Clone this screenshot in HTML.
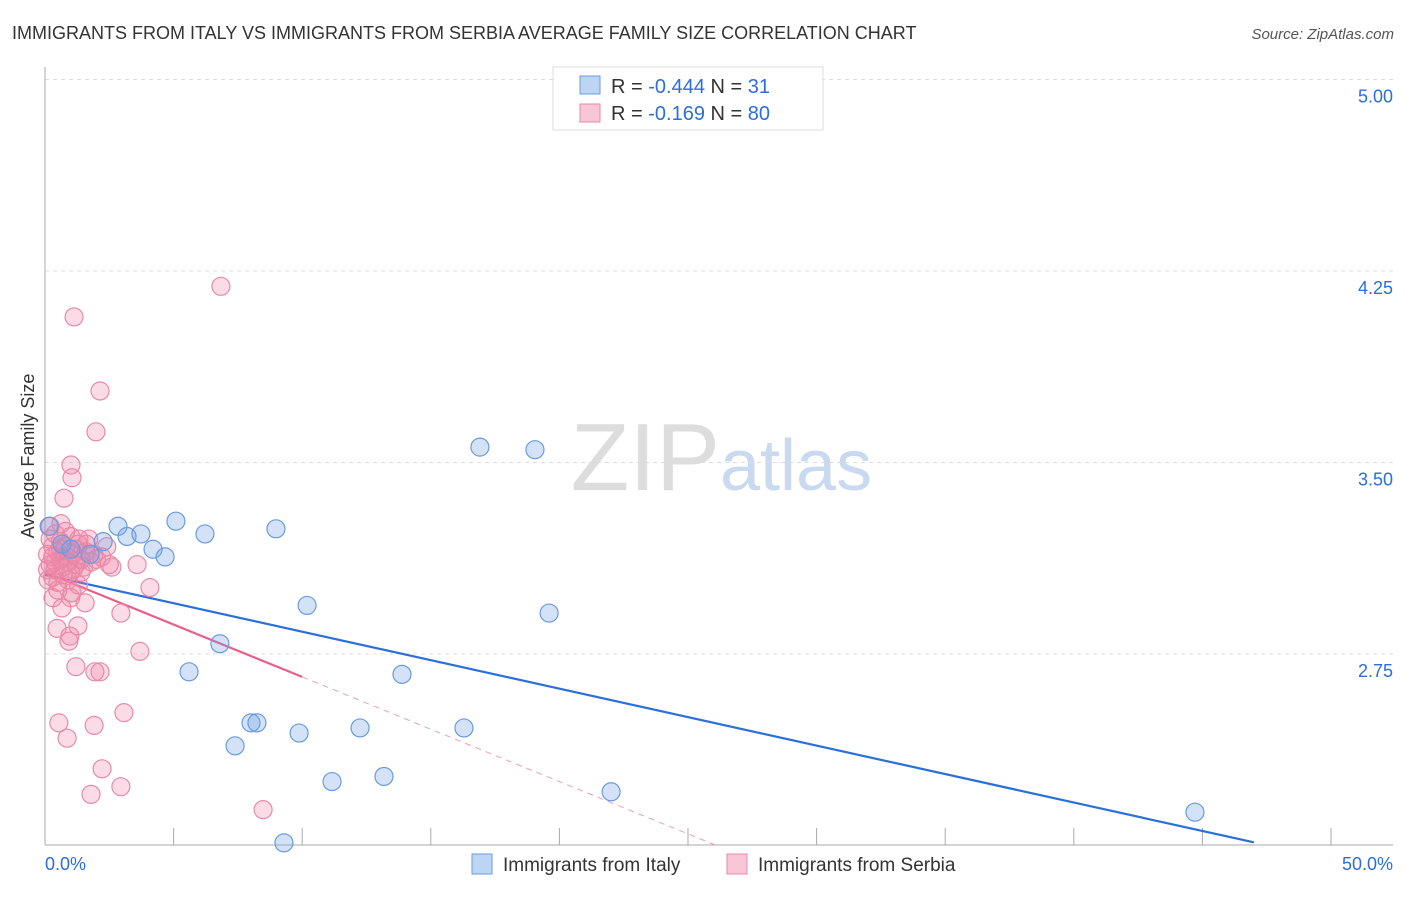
<!DOCTYPE html>
<html><head><meta charset="utf-8"><style>
body{margin:0;background:#fff;font-family:"Liberation Sans",sans-serif}
svg text{font-family:"Liberation Sans",sans-serif}
</style></head><body>
<svg id="chart" width="1406" height="892">
<text x="12" y="39" font-size="18" fill="#333">IMMIGRANTS FROM ITALY VS IMMIGRANTS FROM SERBIA AVERAGE FAMILY SIZE CORRELATION CHART</text>
<text x="1394" y="39" font-size="15" fill="#555" font-style="italic" text-anchor="end">Source: ZipAtlas.com</text>
<text x="720" y="490" font-size="96" fill="#ddd" text-anchor="end" font-family="Liberation Serif">ZIP</text>
<text x="720" y="490" font-size="72" fill="#c8d9f0">atlas</text>
<text transform="translate(34,456) rotate(-90)" font-size="18" fill="#333" text-anchor="middle">Average Family Size</text>
<g id="grid"></g><g id="axes"></g><g id="trend"></g><g id="pts"></g>
<g>
<rect x="553" y="67" width="270" height="63" fill="#fff" stroke="#ddd"/>
<rect x="580" y="76" width="20" height="18" fill="#bcd5f5" stroke="#6a9be0"/>
<rect x="580" y="104" width="20" height="18" fill="#f9c6d5" stroke="#e88aa8"/>
<text x="611" y="93" font-size="20" fill="#333">R = <tspan fill="#2a6fdb">-0.444</tspan>   N =  <tspan fill="#2a6fdb">31</tspan></text>
<text x="611" y="120" font-size="20" fill="#333">R =  <tspan fill="#2a6fdb">-0.169</tspan>   N = <tspan fill="#2a6fdb">80</tspan></text>
</g>
<g>
<rect x="472" y="854" width="20" height="20" fill="#bcd5f5" stroke="#6a9be0"/>
<text x="503" y="871" font-size="19" fill="#333">Immigrants from Italy</text>
<rect x="727" y="854" width="20" height="20" fill="#f9c6d5" stroke="#e88aa8"/>
<text x="758" y="871" font-size="19" fill="#333">Immigrants from Serbia</text>
</g>
<text x="45" y="870" font-size="18" fill="#2a6fdb">0.0%</text>
<text x="1393" y="870" font-size="18" fill="#2a6fdb" text-anchor="end">50.0%</text>
</svg>
<script>
const yTicks=[5.00,4.25,3.50,2.75];
const yTickLabels=["5.00","4.25","3.50","2.75"];
const italyX=[2.84,2.26,3.73,3.19,4.20,4.67,5.09,6.22,8.98,1.75,0.66,0.16,16.91,19.05,10.19,19.60,6.80,5.60,13.88,8.01,8.24,7.39,9.88,12.25,16.29,11.16,13.18,22.01,44.71,9.29,1.01];
const italyY=[3.25,3.19,3.22,3.21,3.16,3.13,3.27,3.22,3.24,3.14,3.18,3.25,3.56,3.55,2.94,2.91,2.79,2.68,2.67,2.48,2.48,2.39,2.44,2.46,2.46,2.25,2.27,2.21,2.13,2.01,3.16];
const serbiaX=[6.84,1.13,2.14,1.98,1.01,1.05,0.74,0.62,1.32,3.58,4.08,2.95,1.56,0.47,1.28,3.69,1.2,1.94,2.14,3.07,0.54,1.91,0.86,2.22,1.79,2.95,8.48,0.93,0.97,0.66,1.05,0.31,0.12,
0.2,0.3,0.4,0.5,0.6,0.7,0.8,0.9,1.0,1.1,1.2,1.3,1.4,1.5,1.6,0.2,0.4,0.6,0.8,1.0,0.3,0.5,0.7,0.9,1.1,1.8,2.0,2.5,2.6,1.7,0.1,0.1,0.6,0.9,1.2,0.4,0.7,1.4,1.9,2.2,0.3,0.5,1.3,0.2,1.6,2.4,1.0];
const serbiaY=[4.19,4.07,3.78,3.62,3.49,3.44,3.36,3.26,3.20,3.10,3.01,2.91,2.95,2.85,2.86,2.76,2.70,2.68,2.68,2.52,2.48,2.47,2.42,2.30,2.20,2.23,2.14,2.80,2.82,2.93,2.99,2.97,3.04,
3.10,3.13,3.08,3.15,3.12,3.09,3.17,3.11,3.07,3.14,3.10,3.18,3.12,3.09,3.15,3.20,3.22,3.19,3.23,3.21,3.05,3.03,3.06,3.04,3.08,3.11,3.12,3.10,3.09,3.20,3.14,3.08,3.16,3.13,3.16,3.11,3.13,3.07,3.14,3.13,3.17,3.00,3.02,3.25,3.18,3.17,2.97];
const trendItaly=[3.06,-0.0223];
const trendSerbia=[3.07,-0.041];
const ns="http://www.w3.org/2000/svg";
const X=v=>45+v*25.72, Y=v=>79.5+(5-v)*255.3;
function mk(p,tag,a){const e=document.createElementNS(ns,tag);for(const k in a)e.setAttribute(k,a[k]);p.appendChild(e);return e;}
const grid=document.getElementById('grid'),axes=document.getElementById('axes'),tr=document.getElementById('trend'),pts=document.getElementById('pts');
yTicks.forEach((t,i)=>{
 const l=mk(grid,'line',{x1:45,x2:1393,y1:Y(t),y2:Y(t),stroke:'#ddd','stroke-dasharray':'4,4'});
 
 
 const tx=mk(grid,'text',{x:1393,y:Y(t)+23,'font-size':18,fill:'#2a6fdb','text-anchor':'end'});
 tx.textContent=yTickLabels[i];
 
 
});
const ya=mk(axes,'line',{x1:45,x2:45,y1:67,y2:845,stroke:'#aaa'});


const xa=mk(axes,'line',{x1:45,x2:1393,y1:845,y2:845,stroke:'#aaa'});


for(let i=1;i<=10;i++){const t=mk(axes,'line',{x1:X(i*5),x2:X(i*5),y1:828,y2:845,stroke:'#aaa'});
 
 }
function dots(xs,ys,fill,stroke,name){xs.forEach((x,i)=>{const c=mk(pts,'circle',{cx:X(x),cy:Y(ys[i]),r:9,fill:fill,stroke:stroke,'stroke-width':1.2});
 
 });}
dots(serbiaX,serbiaY,'rgba(240,130,165,0.28)','#e88aa8','serbia-point');
dots(italyX,italyY,'rgba(110,160,230,0.3)','#6a9be0','italy-point');
const f=(t,x)=>t[0]+t[1]*x;
const bl=mk(tr,'line',{x1:X(0),y1:Y(f(trendItaly,0)),x2:X(47),y2:Y(f(trendItaly,47)),stroke:'#2a6fdb','stroke-width':2.2});


const pl=mk(tr,'line',{x1:X(0),y1:Y(f(trendSerbia,0)),x2:X(10),y2:Y(f(trendSerbia,10)),stroke:'#e8608a','stroke-width':2.2});


const xe=(f(trendSerbia,0)-2.0)/-trendSerbia[1];
const pd=mk(tr,'line',{x1:X(10),y1:Y(f(trendSerbia,10)),x2:X(xe),y2:Y(2.0),stroke:'#e8a0b8','stroke-width':1,'stroke-dasharray':'6,5'});


</script>
</body></html>
